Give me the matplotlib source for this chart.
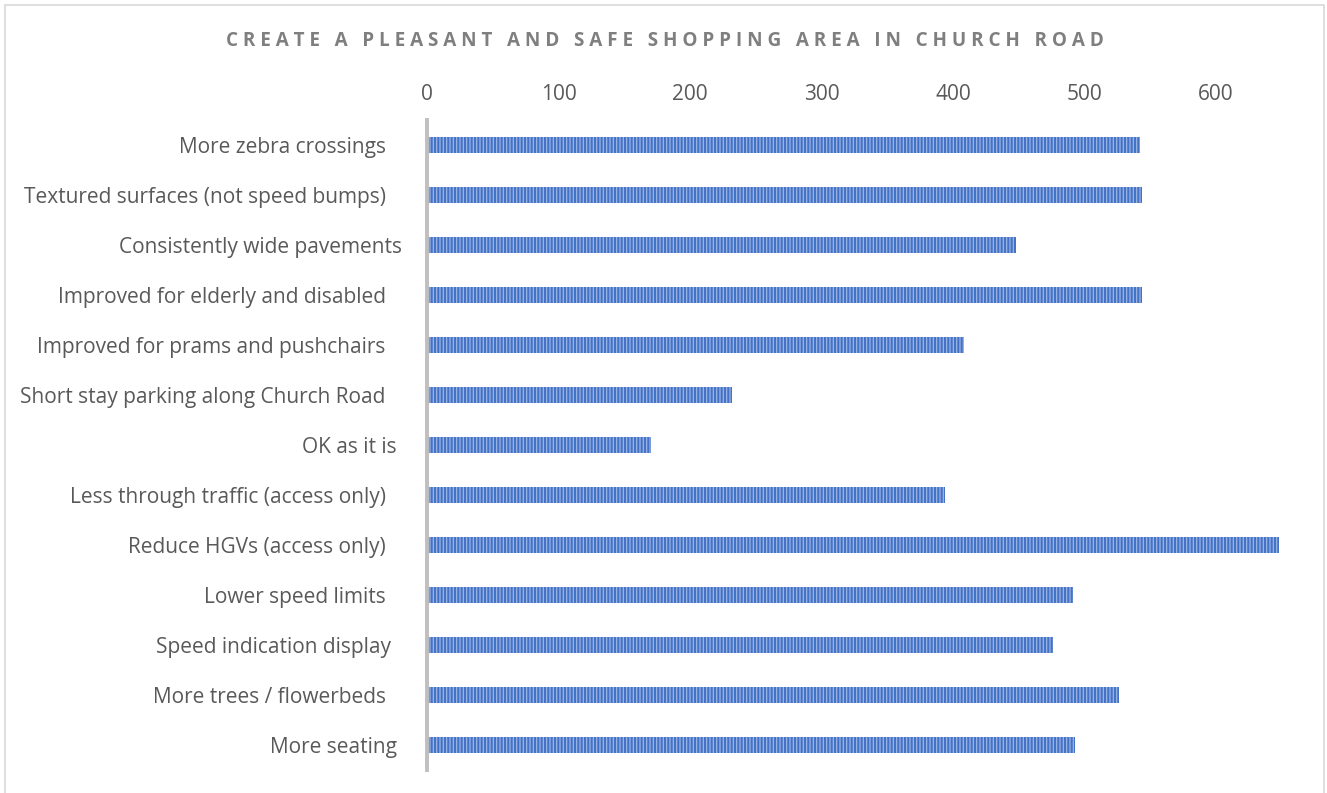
import matplotlib.pyplot as plt
from matplotlib.patches import Rectangle

categories = ['More zebra crossings   ', 'Textured surfaces (not speed bumps)   ',
              'Consistently wide pavements', 'Improved for elderly and disabled   ',
              'Improved for prams and pushchairs   ', 'Short stay parking along Church Road   ',
              'OK as it is ', 'Less through traffic (access only)   ',
              'Reduce HGVs (access only)   ', 'Lower speed limits   ',
              'Speed indication display  ', 'More trees / flowerbeds   ', 'More seating ']
values = [542, 544, 448, 544, 408, 232, 170, 394, 648, 491, 476, 526, 493]
ticks = [0, 100, 200, 300, 400, 500, 600]
title = 'CREATE A PLEASANT AND SAFE SHOPPING AREA IN CHURCH ROAD'

plt.rcParams['font.family'] = ['Open Sans', 'DejaVu Sans']
plt.rcParams['hatch.linewidth'] = 1.5

fig = plt.figure(figsize=(13.27, 7.93), dpi=100)
ax = fig.add_axes([427 / 1327, 1 - 770 / 793, (1295 - 427) / 1327, 650 / 793])

y = list(range(len(categories)))
ax.barh(y, values, height=0.32, color='#9bb4e4', edgecolor='#4472c4',
        hatch='|||||', linewidth=0)

ax.set_xlim(0, 660)
ax.set_ylim(12.5, -0.5)
ax.set_yticks(y)
ax.set_yticklabels(categories, fontsize=15, color='#595959')
ax.set_xticks(ticks)
ax.set_xticklabels([str(t) for t in ticks], fontsize=15, color='#595959')
ax.xaxis.tick_top()
ax.tick_params(axis='both', length=0)
ax.tick_params(axis='x', pad=11)
ax.tick_params(axis='y', pad=18)
for s in ['top', 'right', 'bottom']:
    ax.spines[s].set_visible(False)
ax.spines['left'].set_color('#bfbfbf')
ax.spines['left'].set_linewidth(2.8)

spaced = '   '.join(' '.join(w) for w in title.split(' '))
fig.text(665 / 1327, 1 - 41 / 793, spaced, ha='center', va='center',
         fontsize=13.6, fontweight='bold', color='#7f7f7f')

fig.patches.append(Rectangle((5 / 1327, -0.1), 1319 / 1327, 1.1 - 5 / 793,
                             transform=fig.transFigure, fill=False,
                             edgecolor='#d9d9d9', linewidth=1.2))

fig.savefig('out.png', dpi=100, facecolor='white')
